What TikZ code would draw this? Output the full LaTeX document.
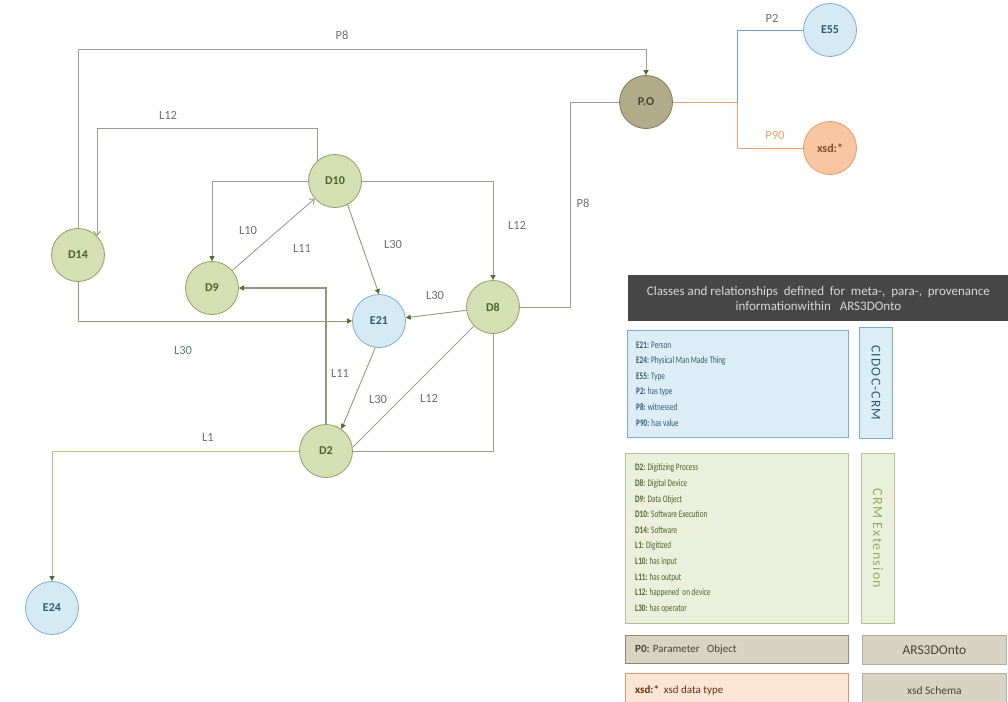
\documentclass[tikz,border=0pt]{standalone}
\usepackage{fontspec}
\setmainfont{Carlito}
\newfontfamily\legendfont[FakeStretch=0.72]{Carlito}
\newfontfamily\widefont[LetterSpace=9]{Carlito}
\usetikzlibrary{arrows.meta}

% palette
\definecolor{nodegreen}{HTML}{D4DFB3}
\definecolor{nodeedge}{HTML}{8E9F63}
\definecolor{nodetext}{HTML}{4F6228}
\definecolor{bluefill}{HTML}{D6EAF4}
\definecolor{blueedge}{HTML}{7EADC9}
\definecolor{bluetext}{HTML}{2E5A70}
\definecolor{pofill}{HTML}{B2AB8A}
\definecolor{poedge}{HTML}{7D7860}
\definecolor{potext}{HTML}{4A4530}
\definecolor{xsdfill}{HTML}{F8C6A1}
\definecolor{xsdedge}{HTML}{E39A66}
\definecolor{xsdtext}{HTML}{8A4A20}
\definecolor{linecol}{HTML}{8E9A7C}
\definecolor{linegray}{HTML}{9A9E96}
\definecolor{lineyellow}{HTML}{B7C27F}
\definecolor{lineblue}{HTML}{6FA3BF}
\definecolor{lineorange}{HTML}{EE9F6B}
\definecolor{tipcol}{HTML}{566B2E}
\definecolor{labelgray}{HTML}{6E6E6E}
\definecolor{headfill}{HTML}{474747}
\definecolor{headtext}{HTML}{D8D8D8}
\definecolor{legblue}{HTML}{DCEDF6}
\definecolor{leggreen}{HTML}{EBF0DC}
\definecolor{leggreenedge}{HTML}{B8C196}
\definecolor{legtan}{HTML}{D8D3C2}
\definecolor{legtanedge}{HTML}{8F8A74}
\definecolor{legpeach}{HTML}{FCE5D4}
\definecolor{legpeachedge}{HTML}{D99C6F}
\definecolor{extext}{HTML}{9AAA5C}

\begin{document}
\begin{tikzpicture}[x=1pt,y=-1pt,
  circ/.style={circle, minimum size=53pt, inner sep=0pt, line width=0.8pt,
    font=\fontsize{12}{14}\selectfont\bfseries},
  greennode/.style={circ, draw=nodeedge, fill=nodegreen, text=nodetext},
  bluenode/.style={circ, draw=blueedge, fill=bluefill, text=bluetext},
  ponode/.style={circ, draw=poedge, fill=pofill, text=potext},
  xsdnode/.style={circ, draw=xsdedge, fill=xsdfill, text=xsdtext},
  conn/.style={draw=linecol, line width=0.9pt},
  filltip/.style={-{Triangle[length=5pt,width=5pt,fill=tipcol,color=tipcol]}},
  opentip/.style={-{Straight Barb[length=4pt,width=7pt,color=linecol]}},
  lbl/.style={font=\fontsize{12.5}{14}\selectfont, text=labelgray, inner sep=0pt},
  legbox/.style={anchor=north west, inner sep=0pt, line width=0.8pt},
  legtext/.style={font=\legendfont\fontsize{10}{15.6}\selectfont, align=left,
    inner sep=0pt, anchor=west},
  wordgap/.style={font=\fontsize{11}{13}\selectfont, inner sep=0pt, anchor=west}
]
\useasboundingbox (0,0) rectangle (1008,701);

% ---------- nodes ----------
\node[greennode] (D14) at (78,255) {D14};
\node[greennode] (D10) at (335,181) {D10};
\node[greennode] (D9)  at (212,288) {D9};
\node[bluenode]  (E21) at (379,321) {E21};
\node[greennode] (D8)  at (493,307) {D8};
\node[greennode] (D2)  at (326,451) {D2};
\node[bluenode]  (E24) at (52,608)  {E24};
\node[ponode]    (PO)  at (646,102) {P.O};
\node[bluenode]  (E55) at (830,30)  {E55};
\node[xsdnode]   (XSD) at (830,148) {xsd:*};

% ---------- routing points ----------
\coordinate (p8top) at (0,49);
\coordinate (l12top) at (0,128);
\coordinate (p8mid) at (570,102);
\coordinate (fork) at (737,102);

% ---------- connectors ----------
\draw[conn, linegray, filltip] (D14.north) -- (D14.north |- p8top) -| (PO.north);
\draw[conn, linegray, opentip] (D10.132) -- (D10.132 |- l12top) -| (D14.45);
\draw[conn, linegray, filltip] (D10.west) -| (D9.north);
\draw[conn, linegray, opentip] (D9) -- (D10);
\draw[conn, filltip] (D10.-62) -- (E21.north);
\draw[conn, linegray, filltip] (D10.east) -| (D8.north);
\draw[conn, filltip] (D14.south) |- (E21.west);
\draw[conn, filltip, line width=1.1pt] (D2.north) |- (D9.east);
\draw[conn, filltip] (D8) -- (E21);
\draw[conn, filltip] (E21.-98) -- (D2.55);
\draw[conn, linegray] (D8.225) -- (D2.8);
\draw[conn, linegray] (D8.south) |- (D2.east);
\draw[conn, lineyellow, filltip] (D2.west) -| (E24.north);
\draw[conn, linegray] (D8.east) -| (p8mid) -- (PO.west);
\draw[conn, lineorange] (PO.east) -- (fork) |- (XSD.west);
\draw[conn, lineblue] (fork) |- (E55.west);

% ---------- connector labels ----------
\node[lbl] (lP8a)  at (342,35)  {P8};
\node[lbl] (lL12a) at (168,115) {L12};
\node[lbl] (lL10)  at (248,230) {L10};
\node[lbl] (lL11a) at (302,248) {L11};
\node[lbl] (lL30a) at (393,244) {L30};
\node[lbl] (lL12b) at (517,225) {L12};
\node[lbl] (lL30b) at (435,295) {L30};
\node[lbl, text=bluetext!80] (lL30c) at (183,350) {L30};
\node[lbl] (lL11b) at (340,373) {L11};
\node[lbl] (lL30d) at (378,399) {L30};
\node[lbl] (lL12c) at (429,398) {L12};
\node[lbl] (lL1)   at (208,437) {L1};
\node[lbl] (lP8b)  at (583,203) {P8};
\node[lbl] (lP2)   at (772,18)  {P2};
\node[lbl, text=lineorange] (lP90) at (775,135) {P90};

% ---------- legend ----------
\node[legbox, fill=headfill, minimum width=380pt, minimum height=46pt,
  text=headtext, font=\fontsize{13}{15}\selectfont, align=center]
  (head) at (628,275)
  {Classes and relationships\ \ defined\ \ for\ \ meta-,\ \ para-,\ \ provenance\\
   informationwithin\ \ \ ARS3DOnto};

\node[legbox, draw=blueedge, fill=legblue, minimum width=221pt, minimum height=107pt]
  (cidoc) at (627,330) {};
\node[legtext, text=bluetext] (cidoctext) at ([xshift=9pt]cidoc.west)
  {\textbf{E21:} Person\\
   \textbf{E24:} Physical Man Made Thing\\
   \textbf{E55:} Type\\
   \textbf{P2:} has type\\
   \textbf{P8:} witnessed\\
   \textbf{P90:} has value};
\node[legbox, draw=blueedge, fill=legblue, minimum width=33pt, minimum height=111pt]
  (cidoctag) at (859,327) {};
\node[text=bluetext, rotate=-90, font=\widefont\fontsize{13.5}{15}\selectfont, inner sep=0pt]
  (cidoclab) at (cidoctag.center) {CIDOC-CRM};

\node[legbox, draw=leggreenedge, fill=leggreen, minimum width=223pt, minimum height=170pt]
  (crmext) at (625,453) {};
\node[legtext, text=nodetext] (crmexttext) at ([xshift=10pt]crmext.west)
  {\textbf{D2:} Digitizing Process\\
   \textbf{D8:} Digital Device\\
   \textbf{D9:} Data Object\\
   \textbf{D10:} Software Execution\\
   \textbf{D14:} Software\\
   \textbf{L1:} Digitized\\
   \textbf{L10:} has input\\
   \textbf{L11:} has output\\
   \textbf{L12:} happened\ \ on device\\
   \textbf{L30:} has operator};
\node[legbox, draw=leggreenedge, fill=leggreen, minimum width=33pt, minimum height=170pt]
  (crmexttag) at (861,453) {};
\node[text=extext, rotate=-90, font=\widefont\fontsize{14}{16}\selectfont, inner sep=0pt]
  (crmextlab) at (crmexttag.center) {CRM Extension};

\node[legbox, draw=legtanedge, fill=legtan, minimum width=223pt, minimum height=28pt]
  (pobox) at (625,635) {};
\node[wordgap, text=potext] (potxt) at ([xshift=10pt]pobox.west)
  {\textbf{P0:} Parameter\ \ \ Object};
\node[legbox, draw=legtanedge!70, fill=legtan, minimum width=144pt, minimum height=29pt]
  (arsbox) at (862,635) {};
\node[text=potext, font=\fontsize{13.5}{15}\selectfont, inner sep=0pt]
  (arstxt) at (arsbox.center) {ARS3DOnto};

\node[legbox, draw=legpeachedge, fill=legpeach, minimum width=223pt, minimum height=30pt]
  (xsdbox) at (625,673) {};
\node[wordgap, text=xsdtext!70!black] (xsdtxt) at ([xshift=10pt,yshift=-2pt]xsdbox.west)
  {\textbf{xsd:*}\ \ xsd data type};
\node[legbox, draw=legtanedge!70, fill=legtan, minimum width=144pt, minimum height=30pt]
  (xsdsbox) at (862,673) {};
\node[text=potext, font=\fontsize{11.5}{13}\selectfont, inner sep=0pt]
  (xsdstxt) at ([yshift=-2pt]xsdsbox.center) {xsd Schema};
\end{tikzpicture}
\end{document}
